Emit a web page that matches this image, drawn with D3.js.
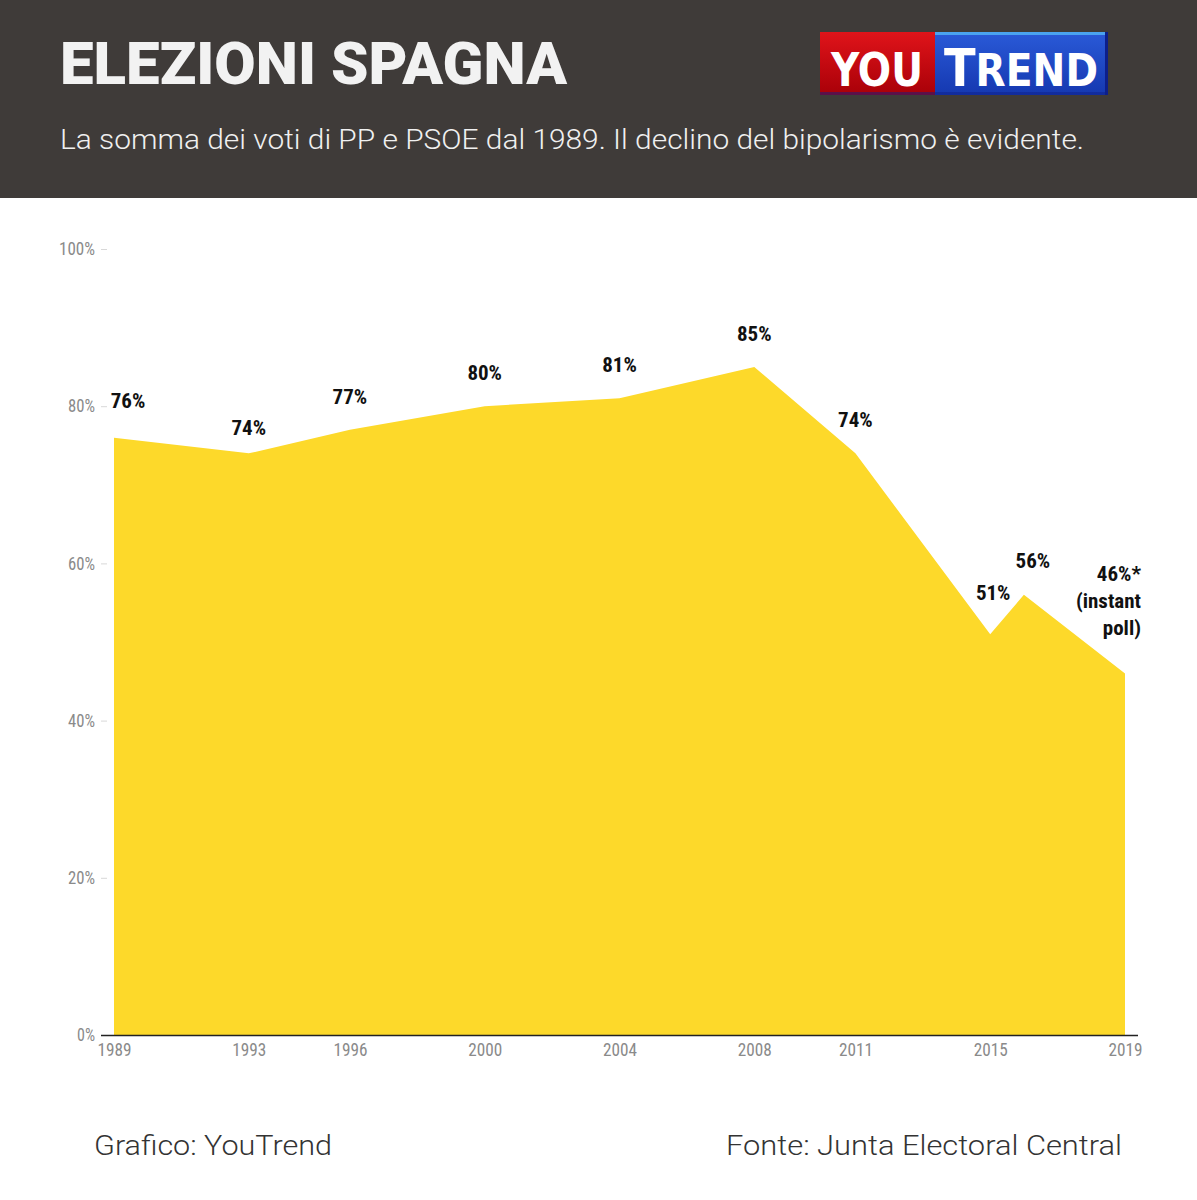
<!DOCTYPE html>
<html><head><meta charset="utf-8">
<script src="https://cdn.jsdelivr.net/npm/d3@7"></script>
<style>
html,body{margin:0;padding:0;background:#fff;}
svg{display:block;}
</style></head>
<body>
<script>
const years = [1989, 1993, 1996, 2000, 2004, 2008, 2011, 2015, 2016, 2019];
const values = [76, 74, 77, 80, 81, 85, 74, 51, 56, 46];
const labels = ["76%", "74%", "77%", "80%", "81%", "85%", "74%", "51%", "56%", "46%*|(instant|poll)"];
const xTicks = [1989, 1993, 1996, 2000, 2004, 2008, 2011, 2015, 2019];
const yTicks = [0, 20, 40, 60, 80, 100];
const title = "ELEZIONI SPAGNA";
const subtitle = "La somma dei voti di PP e PSOE dal 1989. Il declino del bipolarismo è evidente.";
const credit = "Grafico: YouTrend";
const source = "Fonte: Junta Electoral Central";

const W = 1197, H = 1200;
const svg = d3.select("body").append("svg").attr("width", W).attr("height", H);

// header
svg.append("rect").attr("x",0).attr("y",0).attr("width",W).attr("height",198).attr("fill","#3f3b39");
svg.append("text").attr("x",60).attr("y",84).text(title)
  .attr("font-family","Roboto, sans-serif").attr("font-weight",900).attr("font-size",59)
  .attr("fill","#f2f2f2").attr("textLength",507).attr("lengthAdjust","spacingAndGlyphs");
svg.append("text").attr("x",60).attr("y",149).text(subtitle)
  .attr("font-family","Roboto, sans-serif").attr("font-weight",300).attr("font-size",27)
  .attr("fill","#f0f0f0").attr("textLength",1024).attr("lengthAdjust","spacingAndGlyphs");

// logo
const defs = svg.append("defs");
const gr = defs.append("linearGradient").attr("id","gRed").attr("x1",0).attr("y1",0).attr("x2",0).attr("y2",1);
gr.append("stop").attr("offset","0%").attr("stop-color","#e0141a");
gr.append("stop").attr("offset","100%").attr("stop-color","#a80008");
const gb = defs.append("linearGradient").attr("id","gBlue").attr("x1",0).attr("y1",0).attr("x2",0).attr("y2",1);
gb.append("stop").attr("offset","0%").attr("stop-color","#2a5ad8");
gb.append("stop").attr("offset","100%").attr("stop-color","#1538b0");
const logo = svg.append("g");
logo.append("rect").attr("x",820).attr("y",32).attr("width",115).attr("height",63).attr("fill","url(#gRed)");
logo.append("rect").attr("x",935).attr("y",32).attr("width",173).attr("height",63).attr("fill","url(#gBlue)");
logo.append("rect").attr("x",935).attr("y",32).attr("width",173).attr("height",3).attr("fill","#4aa3f0");
logo.append("rect").attr("x",1105).attr("y",32).attr("width",3).attr("height",63).attr("fill","#0d1f8a");
logo.append("rect").attr("x",820).attr("y",92).attr("width",288).attr("height",3).attr("fill","#0d1f8a").attr("opacity",0.5);
logo.append("text").attr("x",877).attr("y",86).attr("text-anchor","middle")
  .attr("font-family","'DejaVu Sans Condensed', 'Roboto', sans-serif").attr("font-weight",700)
  .attr("font-size",46).attr("fill","#fff").attr("textLength",92).attr("lengthAdjust","spacingAndGlyphs").text("YOU");
const tr = logo.append("text").attr("x",944).attr("y",86)
  .attr("font-family","'DejaVu Sans Condensed', 'Roboto', sans-serif").attr("font-weight",700)
  .attr("fill","#fff").attr("textLength",154).attr("lengthAdjust","spacingAndGlyphs");
tr.append("tspan").attr("font-size",52).text("T");
tr.append("tspan").attr("font-size",44).text("REND");

// chart
const margin = {left:114, right:1125, top:249, bottom:1035};
const x = d3.scaleLinear().domain([1989, 2019]).range([margin.left, margin.right]);
const y = d3.scaleLinear().domain([0, 100]).range([margin.bottom, margin.top]);

const data = years.map((yr,i)=>({year:yr, value:values[i], label:labels[i]}));

const area = d3.area().x(d=>x(d.year)).y0(y(0)).y1(d=>y(d.value));
svg.append("path").datum(data).attr("d", area).attr("fill","#fdd92a");

const tickFont = "'Roboto Condensed',Roboto,sans-serif";

// y axis
const yAxis = d3.axisLeft(y).tickValues(yTicks).tickFormat(d=>d+"%").tickSize(6).tickPadding(6);
const gy = svg.append("g").attr("transform",`translate(107,0)`).call(yAxis);
gy.select(".domain").remove();
gy.selectAll(".tick line").attr("stroke","#d8d8d8");
gy.selectAll(".tick text").attr("fill","#8a8a8a").attr("font-size",17.5).attr("font-family",tickFont)
  .attr("textLength",function(){return this.textContent.length*9;}).attr("lengthAdjust","spacingAndGlyphs");

// baseline
svg.append("line").attr("x1",101).attr("x2",1138).attr("y1",y(0)+0.5).attr("y2",y(0)+0.5)
  .attr("stroke","#222").attr("stroke-width",1.5);

// x axis
const xAxis = d3.axisBottom(x).tickValues(xTicks).tickFormat(d3.format("d")).tickSize(0).tickPadding(9);
const gx = svg.append("g").attr("transform",`translate(0,${y(0)})`).call(xAxis);
gx.select(".domain").remove();
gx.selectAll(".tick text").attr("fill","#8a8a8a").attr("font-size",17.5).attr("font-family",tickFont)
  .attr("textLength",34).attr("lengthAdjust","spacingAndGlyphs");

// labels
const lab = svg.append("g").attr("font-family","'Roboto Condensed',Roboto,sans-serif")
  .attr("font-weight",700).attr("font-size",21).attr("fill","#111");
data.forEach((d,i)=>{
  const parts = d.label.split("|");
  const last = i === data.length-1;
  const first = i === 0;
  let dx = 0, anchor = "middle", dy = -33;
  if (first) { dx = 14; dy = -37; }
  if (d.year === 1993) dy = -25;
  if (d.year === 2015) { dy = -41; dx = 3; }
  if (d.year === 2016) { dx = 9; dy = -34; }
  if (last) { anchor = "end"; dx = 16; }
  const t = lab.append("text").attr("text-anchor",anchor);
  if (last) {
    parts.forEach((p,j)=>{
      t.append("tspan").attr("x", x(d.year)+dx).attr("y", 581 + j*27).text(p);
    });
  } else {
    t.attr("x", x(d.year)+dx).attr("y", y(d.value)+dy+7).text(parts[0]);
  }
});

// footer
svg.append("text").attr("x",94).attr("y",1155).text(credit)
  .attr("font-family","Roboto, sans-serif").attr("font-weight",300).attr("font-size",28).attr("fill","#333")
  .attr("textLength",238).attr("lengthAdjust","spacingAndGlyphs");
svg.append("text").attr("x",726).attr("y",1155).text(source)
  .attr("font-family","Roboto, sans-serif").attr("font-weight",300).attr("font-size",28).attr("fill","#333")
  .attr("textLength",396).attr("lengthAdjust","spacingAndGlyphs");
</script>
</body></html>
